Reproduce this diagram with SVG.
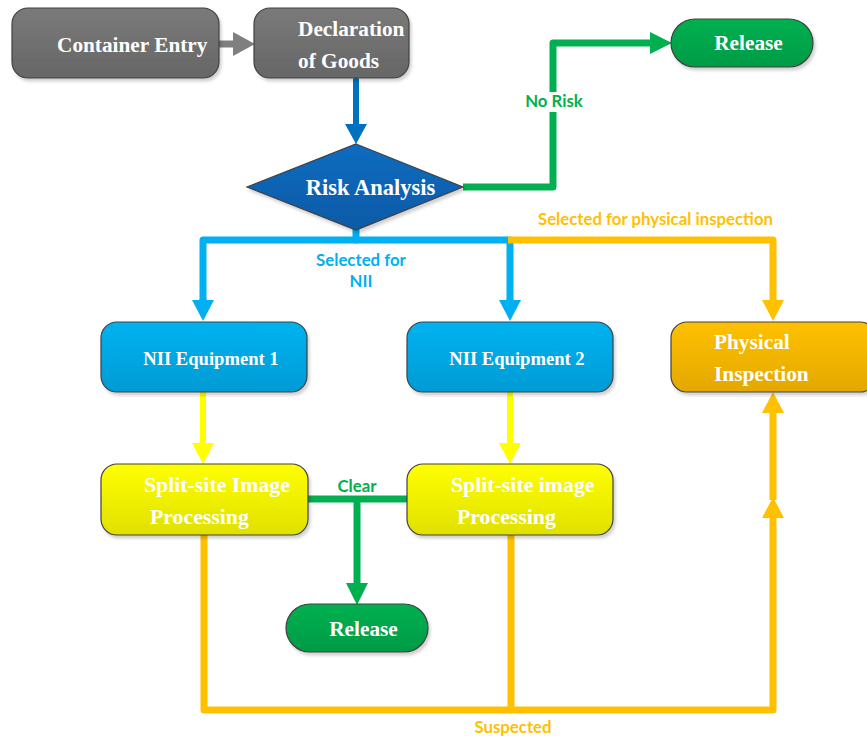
<svg xmlns="http://www.w3.org/2000/svg" width="867" height="736" viewBox="0 0 867 736">
<defs>
<linearGradient id="gGray" x1="0" y1="0" x2="0" y2="1"><stop offset="0" stop-color="#7a7a7a"/><stop offset="1" stop-color="#666666"/></linearGradient>
<linearGradient id="gDia" x1="0" y1="0" x2="0" y2="1"><stop offset="0" stop-color="#0b6cc0"/><stop offset="1" stop-color="#085aa6"/></linearGradient>
<linearGradient id="gGreen" x1="0" y1="0" x2="0" y2="1"><stop offset="0" stop-color="#00b050"/><stop offset="1" stop-color="#009b45"/></linearGradient>
<linearGradient id="gBlue" x1="0" y1="0" x2="0" y2="1"><stop offset="0" stop-color="#00b2f0"/><stop offset="1" stop-color="#009bd5"/></linearGradient>
<linearGradient id="gOrange" x1="0" y1="0" x2="0" y2="1"><stop offset="0" stop-color="#ffc000"/><stop offset="1" stop-color="#e3a800"/></linearGradient>
<linearGradient id="gYellow" x1="0" y1="0" x2="0" y2="1"><stop offset="0" stop-color="#ffff00"/><stop offset="1" stop-color="#e0e000"/></linearGradient>
<filter id="sh" x="-10%" y="-10%" width="130%" height="140%"><feDropShadow dx="2" dy="3" stdDeviation="1.5" flood-color="#000" flood-opacity="0.18"/></filter>
<marker id="aGray" markerUnits="userSpaceOnUse" markerWidth="22" markerHeight="24" refX="0" refY="12" orient="auto" overflow="visible"><path d="M0,0 L22,12 L0,24 z" fill="#7f7f7f"/></marker>
<marker id="aDBlue" markerUnits="userSpaceOnUse" markerWidth="20" markerHeight="22" refX="0" refY="11" orient="auto" overflow="visible"><path d="M0,0 L20,11 L0,22 z" fill="#0070c0"/></marker>
<marker id="aGreen" markerUnits="userSpaceOnUse" markerWidth="22" markerHeight="22" refX="0" refY="11" orient="auto" overflow="visible"><path d="M0,0 L22,11 L0,22 z" fill="#00b050"/></marker>
<marker id="aLBlue" markerUnits="userSpaceOnUse" markerWidth="21" markerHeight="22" refX="0" refY="11" orient="auto" overflow="visible"><path d="M0,0 L21,11 L0,22 z" fill="#00b0f0"/></marker>
<marker id="aOrange" markerUnits="userSpaceOnUse" markerWidth="21" markerHeight="22" refX="0" refY="11" orient="auto" overflow="visible"><path d="M0,0 L21,11 L0,22 z" fill="#ffc000"/></marker>
<marker id="aYellow" markerUnits="userSpaceOnUse" markerWidth="21" markerHeight="22" refX="0" refY="11" orient="auto" overflow="visible"><path d="M0,0 L21,11 L0,22 z" fill="#ffff00"/></marker>
</defs>
<style>
.box{stroke:#404040;stroke-width:1.2;filter:url(#sh)}
.t{font-family:"Liberation Serif","Times New Roman",serif;font-weight:bold;fill:#ffffff;font-size:21.3px}
.lbl{font-family:Lato,"Liberation Sans",sans-serif;font-weight:bold;font-size:16.8px}
.ln{fill:none;stroke-linejoin:round}
</style>
<rect width="867" height="736" fill="#ffffff"/>

<g id="connectors">
<path class="ln" d="M219,44 H233" stroke="#7f7f7f" stroke-width="7" marker-end="url(#aGray)"/>
<path class="ln" d="M356,80 V124" stroke="#0070c0" stroke-width="6" stroke-linecap="round" marker-end="url(#aDBlue)"/>
<path class="ln" d="M463,187 H553 V43 H650" stroke="#00b050" stroke-width="7" marker-end="url(#aGreen)"/>
<rect x="523" y="92" width="62" height="20" fill="#ffffff"/>
<text class="lbl" x="554" y="107" fill="#00b050" text-anchor="middle">No Risk</text>
<path class="ln" d="M356,228 V240" stroke="#00b0f0" stroke-width="7" stroke-linecap="round"/>
<path class="ln" d="M203,300 V240 H510 V300" stroke="#00b0f0" stroke-width="7"/>
<path class="ln" d="M203,299 V300" stroke="#00b0f0" stroke-width="7" marker-end="url(#aLBlue)"/>
<path class="ln" d="M510,299 V300" stroke="#00b0f0" stroke-width="7" marker-end="url(#aLBlue)"/>
<text class="lbl" x="361" y="266" fill="#00b0f0" text-anchor="middle">Selected for</text>
<text class="lbl" x="361" y="287" fill="#00b0f0" text-anchor="middle">NII</text>
<path class="ln" d="M508,240 H773 V300" stroke="#ffc000" stroke-width="7" marker-end="url(#aOrange)"/>
<text class="lbl" x="773" y="225" fill="#ffc000" text-anchor="end">Selected for physical inspection</text>
<path class="ln" d="M203,392 V443" stroke="#ffff00" stroke-width="6" stroke-linecap="round" marker-end="url(#aYellow)"/>
<path class="ln" d="M510,392 V443" stroke="#ffff00" stroke-width="6" stroke-linecap="round" marker-end="url(#aYellow)"/>
<path class="ln" d="M308,499 H407" stroke="#00b050" stroke-width="7" stroke-linecap="round"/>
<path class="ln" d="M357,499 V583" stroke="#00b050" stroke-width="7" marker-end="url(#aGreen)"/>
<text class="lbl" x="357" y="492" fill="#00b050" text-anchor="middle">Clear</text>
<path class="ln" d="M204,535 V710 H773 V518" stroke="#ffc000" stroke-width="7" stroke-linecap="round" marker-end="url(#aOrange)"/>
<path class="ln" d="M773,500 V413" stroke="#ffc000" stroke-width="7" marker-end="url(#aOrange)"/>
<path class="ln" d="M511,535 V710" stroke="#ffc000" stroke-width="7" stroke-linecap="round"/>
<text class="lbl" x="513" y="733" fill="#ffc000" text-anchor="middle">Suspected</text>
</g>

<g id="container-entry">
<rect class="box" x="12" y="8" width="207" height="70" rx="16" fill="url(#gGray)"/>
<text class="t" x="57" y="52">Container Entry</text>
</g>
<g id="declaration">
<rect class="box" x="254" y="8" width="155" height="70" rx="16" fill="url(#gGray)"/>
<text class="t" x="298" y="36">Declaration</text>
<text class="t" x="298" y="68">of Goods</text>
</g>
<g id="risk-analysis">
<polygon class="box" points="356,144 463,187 356,230 247,187" fill="url(#gDia)"/>
<text class="t" x="370.5" y="195" style="font-size:22.5px" text-anchor="middle">Risk Analysis</text>
</g>
<g id="release-top">
<rect class="box" x="671" y="19" width="142" height="48" rx="24" fill="url(#gGreen)"/>
<text class="t" x="748.5" y="50" text-anchor="middle">Release</text>
</g>
<g id="nii-1">
<rect class="box" x="101" y="322" width="206" height="70" rx="16" fill="url(#gBlue)"/>
<text class="t" x="211" y="365" style="font-size:18.6px" text-anchor="middle">NII Equipment 1</text>
</g>
<g id="nii-2">
<rect class="box" x="407" y="322" width="206" height="70" rx="16" fill="url(#gBlue)"/>
<text class="t" x="517" y="365" style="font-size:18.6px" text-anchor="middle">NII Equipment 2</text>
</g>
<g id="physical-inspection">
<rect class="box" x="671" y="322" width="205" height="70" rx="16" fill="url(#gOrange)"/>
<text class="t" x="714" y="349">Physical</text>
<text class="t" x="714" y="381">Inspection</text>
</g>
<g id="split-1">
<rect class="box" x="101" y="464" width="207" height="71" rx="16" fill="url(#gYellow)"/>
<text class="t" x="144" y="492" style="font-size:21.8px">Split-site Image</text>
<text class="t" x="150" y="524" style="font-size:21.8px">Processing</text>
</g>
<g id="split-2">
<rect class="box" x="407" y="464" width="206" height="71" rx="16" fill="url(#gYellow)"/>
<text class="t" x="451" y="492" style="font-size:21.8px">Split-site image</text>
<text class="t" x="457" y="524" style="font-size:21.8px">Processing</text>
</g>
<g id="release-bottom">
<rect class="box" x="286" y="604" width="142" height="48" rx="24" fill="url(#gGreen)"/>
<text class="t" x="363.5" y="636" text-anchor="middle">Release</text>
</g>
</svg>
